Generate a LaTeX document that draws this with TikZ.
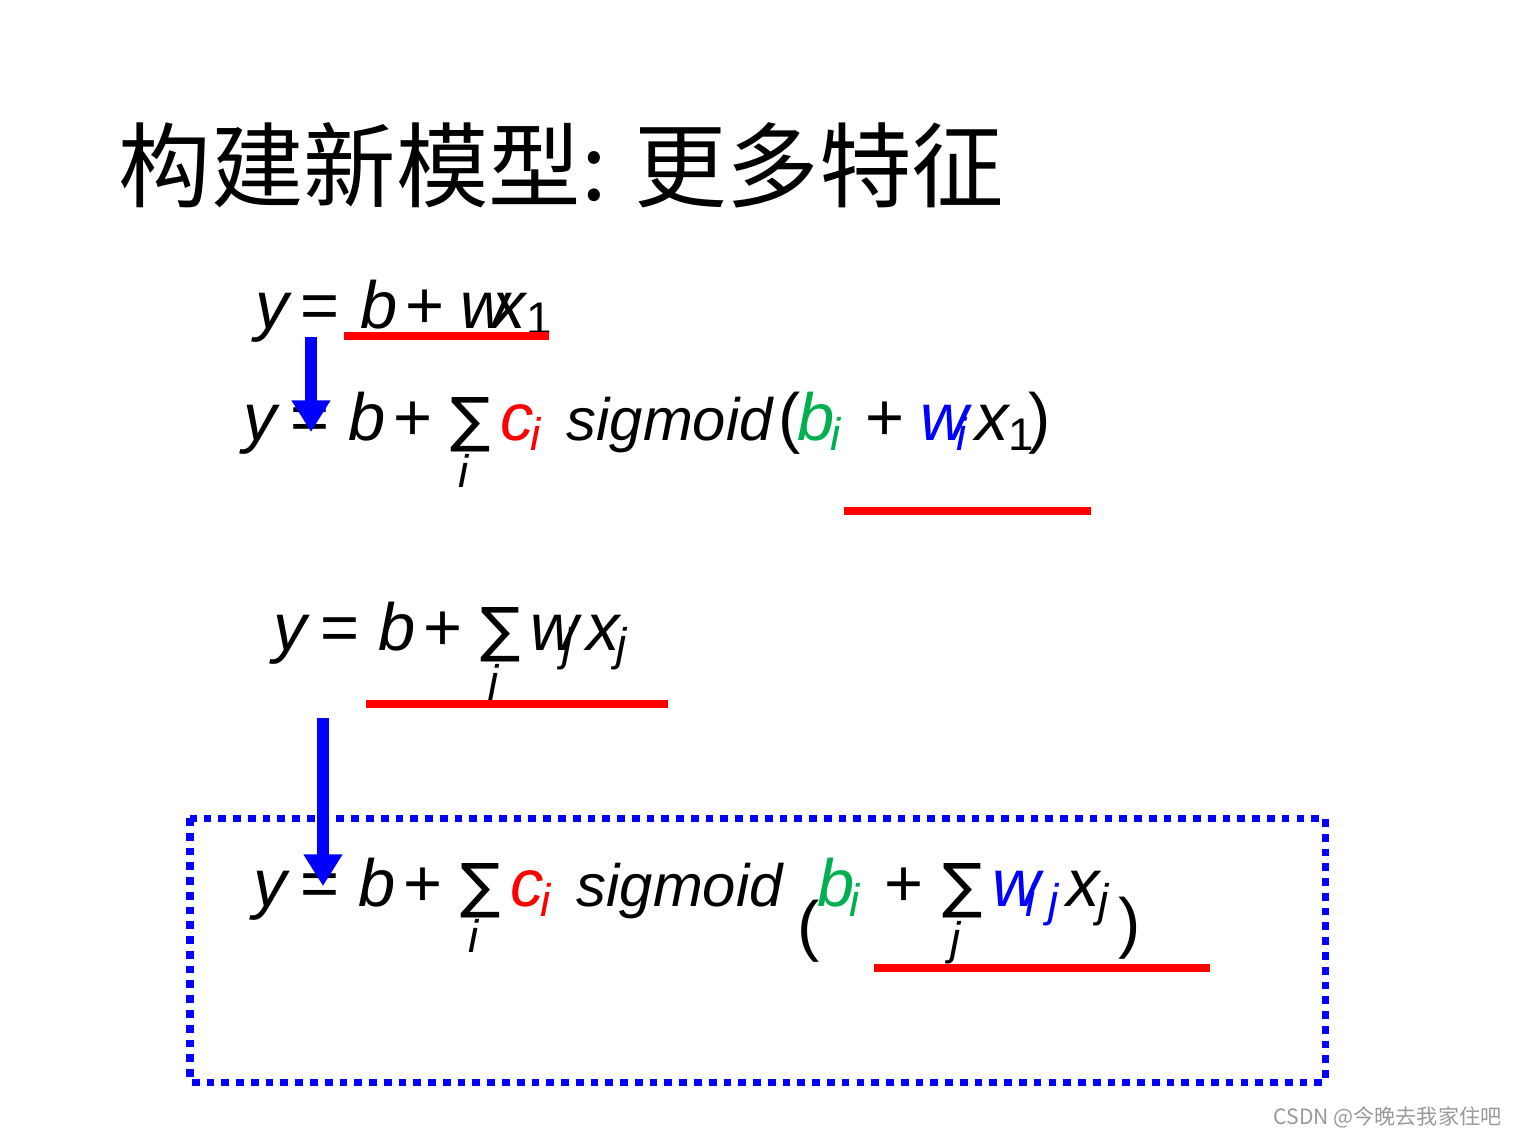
\documentclass[tikz,border=0pt]{standalone}
\usepackage{fontspec}
\setmainfont{Liberation Sans}
\newfontfamily\cjk{Noto Sans CJK SC}
\newfontfamily\dvs{DejaVu Sans}
\usetikzlibrary{arrows.meta}
\definecolor{mgreen}{RGB}{0,176,80}
\tikzset{
 eq/.style={anchor=base west,inner sep=0,font=\fontsize{19}{22}\selectfont},
 sig/.style={anchor=base west,inner sep=0,font=\fontsize{17}{20}\selectfont\itshape},
 sm/.style={anchor=base west,inner sep=0,font=\dvs\fontsize{17}{20}\selectfont},
 sub/.style={anchor=base west,inner sep=0,font=\fontsize{13}{15}\selectfont\itshape},
 redline/.style={draw=red,line width=2.3pt},
 bluearrow/.style={draw=blue,line width=3.4pt,-{Triangle[width=10.5pt,length=9pt]}}
}
\begin{document}
\begin{tikzpicture}[x=0.01cm,y=-0.01cm]
\useasboundingbox (0,0) rectangle (1518,1138);
\node[anchor=base west,inner sep=0,font=\cjk\fontsize{26.3}{30}\selectfont] (title) at (118,200) {构建新模型: 更多特征};
% eq1
\node[eq] (e1y) at (255,328) {\textit{y}};
\node[eq] (e1eq) at (300,328) {=};
\node[eq] (e1b) at (360,328) {\textit{b}};
\node[eq] (e1p) at (405,328) {+};
\node[eq] (e1w) at (460,328) {\textit{w}};
\node[eq] (e1x) at (492,328) {\textit{x}};
\node[sub] (e1s) at (526,334) {\upshape 1};
\draw[redline] (344,336) -- (549,336);
% eq2
\node[eq] (e2y) at (243,440) {\textit{y}};
\node[eq] (e2eq) at (290,440) {=};
\node[eq] (e2b) at (348,440) {\textit{b}};
\node[eq] (e2p) at (393,440) {+};
\node[sm] (e2s) at (450,440) {∑};
\node[sub] (e2i) at (458,487) {i};
\node[eq,text=red] (e2c) at (500,440) {\textit{c}};
\node[sub,text=red] (e2ci) at (530,450) {i};
\node[sig] (e2sig) at (566,440) {sigmoid};
\node[eq] (e2l) at (778,440) {(};
\node[eq,text=mgreen] (e2b2) at (797,440) {\textit{b}};
\node[sub,text=mgreen] (e2bi) at (830,450) {i};
\node[eq] (e2p2) at (865,440) {+};
\node[eq,text=blue] (e2w) at (920,440) {\textit{w}};
\node[sub,text=blue] (e2wi) at (956,450) {i};
\node[eq] (e2x) at (975,440) {\textit{x}};
\node[sub] (e2x1) at (1008,450) {\upshape 1};
\node[eq] (e2r) at (1028,440) {)};
\draw[redline] (844,511) -- (1091,511);
\draw[bluearrow] (311,337) -- (311,432);
% eq3
\node[eq] (e3y) at (273,650) {\textit{y}};
\node[eq] (e3eq) at (320,650) {=};
\node[eq] (e3b) at (378,650) {\textit{b}};
\node[eq] (e3p) at (423,650) {+};
\node[sm] (e3s) at (480,650) {∑};
\node[sub] (e3j) at (488,697) {j};
\node[eq] (e3w) at (530,650) {\textit{w}};
\node[sub] (e3wj) at (562,660) {j};
\node[eq] (e3x) at (586,650) {\textit{x}};
\node[sub] (e3xj) at (616,660) {j};
\draw[redline] (366,704) -- (668,704);
% box
\draw[blue,line width=2pt,dash pattern=on 2.2pt off 2pt] (190,818) rectangle (1325,1082);
% eq4
\node[eq] (e4y) at (253,906) {\textit{y}};
\node[eq] (e4eq) at (300,906) {=};
\node[eq] (e4b) at (358,906) {\textit{b}};
\node[eq] (e4p) at (403,906) {+};
\node[sm] (e4s) at (460,906) {∑};
\node[sub] (e4i) at (468,952) {i};
\node[eq,text=red] (e4c) at (510,906) {\textit{c}};
\node[sub,text=red] (e4ci) at (540,916) {i};
\node[sig] (e4sig) at (576,906) {sigmoid};
\node[eq] (e4l) at (797,948) {(};
\node[eq,text=mgreen] (e4b2) at (817,906) {\textit{b}};
\node[sub,text=mgreen] (e4bi) at (849,916) {i};
\node[eq] (e4p2) at (884,906) {+};
\node[sm] (e4s2) at (942,906) {∑};
\node[sub] (e4j) at (950,954) {j};
\node[eq,text=blue] (e4w) at (992,906) {\textit{w}};
\node[sub,text=blue] (e4wij) at (1025,916) {i j};
\node[eq] (e4x) at (1066,906) {\textit{x}};
\node[sub] (e4xj) at (1098,916) {j};
\node[eq] (e4r) at (1118,945) {)};
\draw[redline] (874,968) -- (1210,968);
\draw[bluearrow] (323,718) -- (323,886);
\node[anchor=base east,inner sep=0,text=gray!80,font=\cjk\fontsize{6}{8}\selectfont] (wm) at (1502,1124) {CSDN @今晚去我家住吧};
\end{tikzpicture}
\end{document}
